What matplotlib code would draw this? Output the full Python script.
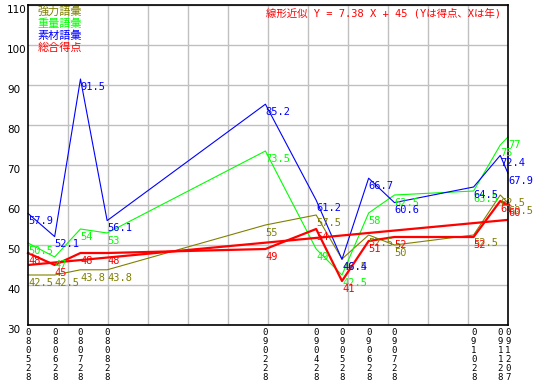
import matplotlib.pyplot as plt
import numpy as np

plt.rcParams['font.family'] = ['Noto Sans CJK JP', 'DejaVu Sans']

dates = ["080528", "080628", "080728", "080828", "090228", "090428",
         "090528", "090628", "090728", "091028", "091128", "091207"]

kyoryoku = [42.5, 42.5, 43.8, 43.8, 55, 57.5, 46.5, 52.5, 50, 52.5, 62.5, 60.5]
juryo = [50.5, 47, 54, 53, 73.5, 49, 42.5, 58, 62.5, 63.5, 75, 77]
sozai = [57.9, 52.1, 91.5, 56.1, 85.2, 61.2, 46.4, 66.7, 60.6, 64.5, 72.4, 67.9]
sogo = [48, 45, 48, 48, 49, 54, 41, 51, 52, 52, 61, 60]

series_names = ["強力語彙", "重量語彙", "素材語彙", "総合得点"]
series_colors = ["#808000", "#00ff00", "#0000ff", "#ff0000"]

trend_slope = 7.38
trend_intercept = 45

# days since first date
dt = np.array(["20" + s[:2] + "-" + s[2:4] + "-" + s[4:] for s in dates], dtype="datetime64[D]")
x = (dt - dt[0]).astype(float)

fig = plt.figure(figsize=(5.38, 3.9), dpi=100)
ax = fig.add_axes([28 / 538, 1 - 325 / 390, 480 / 538, 320 / 390])

ax.set_xlim(x[0], x[-1])
ax.set_ylim(30, 110)
ax.set_yticks(range(30, 111, 10))
ax.yaxis.grid(True, color="#c0c0c0", linewidth=1)
# vertical grid is uniform, not tied to the dates
for k in range(1, 12):
    ax.plot([k / 12, k / 12], [0, 1], color="#c0c0c0", linewidth=1,
            transform=ax.transAxes, zorder=0.5)
ax.set_axisbelow(True)

ax.set_xticks(x)
ax.set_xticklabels(["\n".join(s) for s in dates], fontsize=6.5, linespacing=1.0,
                   family="DejaVu Sans Mono")
ax.tick_params(length=0, pad=2)
ax.tick_params(axis="y", labelsize=7.5, pad=15)
for lab in ax.get_yticklabels():
    lab.set_family("DejaVu Sans")
    lab.set_va("top")
    lab.set_ha("left")

for spine in ax.spines.values():
    spine.set_linewidth(1.2)

all_series = [kyoryoku, juryo, sozai, sogo]
for vals, color, name in zip(all_series, series_colors, series_names):
    lw = 1.6 if name == "総合得点" else 0.8
    ax.plot(x, vals, color=color, linewidth=lw, clip_on=False)

# trend line
years = x / 365
ax.plot(x, trend_slope * years + trend_intercept, color="#ff0000", linewidth=1.6)

for vals, color in zip(all_series, series_colors):
    for xi, v in zip(x, vals):
        ax.annotate(f"{v:g}", (xi, v), xytext=(0, -2), textcoords="offset points",
                    ha="left", va="top", color=color, fontsize=7.5,
                    family="DejaVu Sans Mono", annotation_clip=False)

for i, (name, color) in enumerate(zip(series_names, series_colors)):
    ax.text(0.02, 0.995 - i * 0.037, name, transform=ax.transAxes, color=color,
            fontsize=8, ha="left", va="top")

ax.text(0.985, 0.99, "線形近似 Y = 7.38 X + 45 (Yは得点、Xは年)", transform=ax.transAxes,
        color="#ff0000", fontsize=7.5, ha="right", va="top",
        family=["DejaVu Sans Mono", "Noto Sans CJK JP"])

fig.savefig("out.png", dpi=100)
